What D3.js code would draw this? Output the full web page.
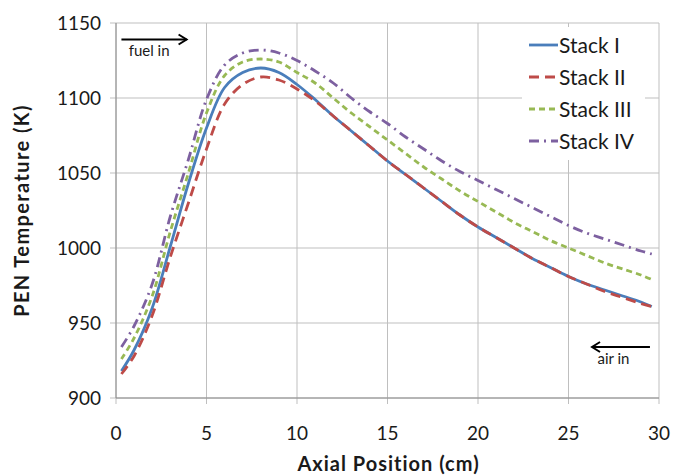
<!DOCTYPE html>
<html>
<head>
<meta charset="utf-8">
<script src="https://cdn.jsdelivr.net/npm/d3@7"></script>
<style>
  body { margin: 0; background: #fff; }
  text { font-family: Lato, "Open Sans", sans-serif; fill: #1a1a1a; }
</style>
</head>
<body>
<div id="chart"></div>
<script>
// axial positions (cm)
const positions = [0.3, 1, 2, 3, 4, 5, 6, 7, 8, 9, 10, 11, 12, 13, 14, 15, 16, 17, 18, 19, 20, 21, 22, 23, 24, 25, 26, 27, 28, 29, 29.6];

// PEN temperature (K) per stack
const stackI   = [918, 932, 960, 1001, 1043, 1080, 1107, 1117, 1120, 1117, 1109, 1099, 1088, 1078, 1068, 1058, 1049, 1040, 1031, 1022, 1014, 1007, 1000, 993, 987, 981, 976, 972, 968, 964, 961];
const stackII  = [916, 928, 955, 994, 1030, 1066, 1096, 1109, 1114, 1112, 1106, 1098, 1088, 1078, 1068, 1058, 1049, 1040, 1031, 1022, 1014, 1007, 1000, 993, 987, 981, 976, 971, 967, 963, 961];
const stackIII = [926, 940, 968, 1011, 1050, 1090, 1115, 1124, 1126, 1124, 1117, 1110, 1100, 1090, 1081, 1072, 1063, 1054, 1046, 1038, 1031, 1024, 1017, 1011, 1005, 1000, 995, 990, 986, 982, 979];
const stackIV  = [934, 948, 976, 1021, 1059, 1099, 1122, 1130, 1132, 1130, 1125, 1118, 1110, 1100, 1091, 1083, 1074, 1066, 1058, 1051, 1045, 1039, 1033, 1027, 1021, 1015, 1010, 1006, 1002, 998, 996];

const seriesNames = ['Stack I', 'Stack II', 'Stack III', 'Stack IV'];
const seriesValues = [stackI, stackII, stackIII, stackIV];

const xTicks = [0, 5, 10, 15, 20, 25, 30];
const yTicks = [900, 950, 1000, 1050, 1100, 1150];

const width = 673;
const height = 476;
const margin = { top: 23, right: 14, bottom: 78, left: 116 };

// line styles per stack
const styles = [
  { color: '#4A7EBB', dash: null },
  { color: '#BE4B48', dash: '10,6' },
  { color: '#98B954', dash: '6,4' },
  { color: '#7D60A0', dash: '10,5,2,5' },
];

const svg = d3.select('#chart')
  .append('svg')
  .attr('width', width)
  .attr('height', height);

const x = d3.scaleLinear().domain([0, 30]).range([margin.left, width - margin.right]);
const y = d3.scaleLinear().domain([900, 1150]).range([height - margin.bottom, margin.top]);

// grid
svg.append('g')
  .selectAll('line')
  .data(xTicks)
  .enter()
  .append('line')
  .attr('x1', d => x(d)).attr('x2', d => x(d))
  .attr('y1', y(1150)).attr('y2', y(900) + 6)
  .attr('stroke', '#bfbfbf').attr('stroke-width', 1);

svg.append('g')
  .selectAll('line')
  .data(yTicks)
  .enter()
  .append('line')
  .attr('x1', x(0) - 6).attr('x2', x(30))
  .attr('y1', d => y(d)).attr('y2', d => y(d))
  .attr('stroke', '#bfbfbf').attr('stroke-width', 1);

// axes lines
svg.append('line')
  .attr('x1', x(0)).attr('x2', x(0))
  .attr('y1', y(1150)).attr('y2', y(900))
  .attr('stroke', '#8c8c8c');
svg.append('line')
  .attr('x1', x(0)).attr('x2', x(30))
  .attr('y1', y(900)).attr('y2', y(900))
  .attr('stroke', '#8c8c8c');

// tick labels
svg.append('g')
  .selectAll('text')
  .data(xTicks)
  .enter()
  .append('text')
  .attr('x', d => x(d))
  .attr('y', y(900) + 42)
  .attr('text-anchor', 'middle')
  .style('font-size', '19px')
  .text(d => d);

svg.append('g')
  .selectAll('text')
  .data(yTicks)
  .enter()
  .append('text')
  .attr('x', x(0) - 15)
  .attr('y', d => y(d) + 7)
  .attr('text-anchor', 'end')
  .style('font-size', '19px')
  .text(d => d);

// axis titles
svg.append('text')
  .attr('x', (x(0) + x(30)) / 2 + 1)
  .attr('y', 471)
  .attr('text-anchor', 'middle')
  .style('font-size', '20px')
  .style('font-weight', 'bold')
  .style('letter-spacing', '1px')
  .text('Axial Position (cm)');

svg.append('text')
  .attr('transform', `translate(29, ${(y(900) + y(1150)) / 2}) rotate(-90)`)
  .attr('text-anchor', 'middle')
  .style('font-size', '20px')
  .style('font-weight', 'bold')
  .style('letter-spacing', '1.4px')
  .text('PEN Temperature (K)');

// curves
const line = d3.line()
  .x((d, i) => x(positions[i]))
  .y(d => y(d))
  .curve(d3.curveCatmullRom.alpha(0.5));

seriesValues.forEach((values, i) => {
  svg.append('path')
    .datum(values)
    .attr('d', line)
    .attr('fill', 'none')
    .attr('stroke', styles[i].color)
    .attr('stroke-width', 2.8)
    .attr('stroke-dasharray', styles[i].dash);
});

// legend
svg.append('rect')
  .attr('x', 522).attr('y', 27)
  .attr('width', 123).attr('height', 133)
  .attr('fill', '#fff');

seriesNames.forEach((name, i) => {
  const ly = 45 + i * 32;
  svg.append('line')
    .attr('x1', 529).attr('x2', 558)
    .attr('y1', ly).attr('y2', ly)
    .attr('stroke', styles[i].color)
    .attr('stroke-width', 2.8)
    .attr('stroke-dasharray', styles[i].dash);
  svg.append('text')
    .attr('x', 559)
    .attr('y', ly + 8)
    .style('font-size', '21px')
    .text(name);
});

// flow arrows
const arrowHead = (px, py, dir) => {
  svg.append('path')
    .attr('d', `M${px - dir * 8},${py - 5} L${px},${py} L${px - dir * 8},${py + 5}`)
    .attr('fill', 'none')
    .attr('stroke', '#000')
    .attr('stroke-width', 2);
};

svg.append('line')
  .attr('x1', x(0.3)).attr('x2', x(3.9))
  .attr('y1', y(1139)).attr('y2', y(1139))
  .attr('stroke', '#000').attr('stroke-width', 2);
arrowHead(x(3.9), y(1139), 1);
svg.append('text')
  .attr('x', x(0.7))
  .attr('y', y(1139) + 16)
  .style('font-size', '15px')
  .text('fuel in');

svg.append('line')
  .attr('x1', x(26.3)).attr('x2', x(29.5))
  .attr('y1', y(934)).attr('y2', y(934))
  .attr('stroke', '#000').attr('stroke-width', 2);
arrowHead(x(26.3), y(934), -1);
svg.append('text')
  .attr('x', x(26.6))
  .attr('y', y(934) + 17)
  .style('font-size', '15px')
  .text('air in');
</script>
</body>
</html>
